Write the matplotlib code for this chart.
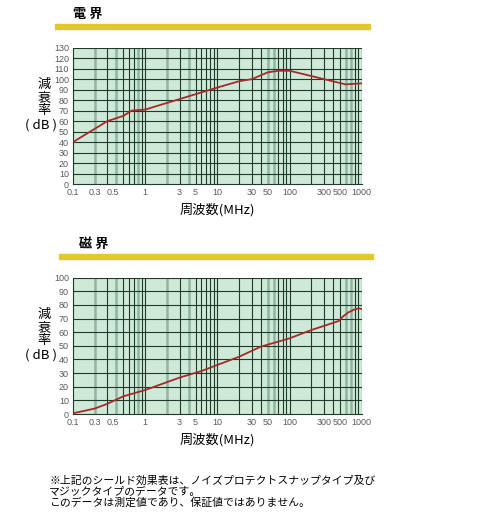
import numpy as np
import matplotlib.pyplot as plt
from matplotlib.ticker import FixedLocator, NullLocator

plt.rcParams['font.family'] = ['Liberation Sans', 'DejaVu Sans']
JP = ['Noto Sans CJK JP', 'DejaVu Sans']

# 電界 (electric field) shielding curve
freq_e = [0.1, 0.3, 0.5, 0.65, 1, 3, 10, 20, 30, 50, 70, 100, 200, 300, 600, 1000]
atten_e = [40, 60, 65, 70, 71, 81, 92, 98, 100, 106.5, 108, 108, 103, 100, 95, 96]

# 磁界 (magnetic field) shielding curve
freq_h = [0.1, 0.2, 0.3, 0.5, 1, 3, 6, 10, 20, 40, 100, 200, 480, 550, 650, 800, 920, 1000]
atten_h = [0.5, 4, 7.5, 13, 17.6, 26.7, 31.5, 36, 42, 49.4, 55.5, 61.6, 68.2, 71.5, 74.5, 76.8, 77.5, 77]

# x tick labels as printed (the first decade labels sit left of their lines)
xtick_pos = [0.1, 0.2, 0.36, 1, 3, 5, 10, 30, 50, 100, 300, 500, 1000]
xtick_lbl = ['0.1', '0.3', '0.5', '1', '3', '5', '10', '30', '50', '100', '300', '500', '1000']
grey_lines = [0.2, 0.4, 0.8, 2, 4, 50, 60, 600, 700]

W, H = 490, 531
fig = plt.figure(figsize=(W / 100, H / 100), dpi=100)


def panel(top_px, ymax, freq, atten, title, bar_x0, bar_x1, title_x):
    ax = fig.add_axes([73 / W, 1 - (top_px + 136.3) / H, 288.7 / W, 136.3 / H])
    ax.set_facecolor('#cfe9d9')
    ax.set_xscale('log')
    ax.set_xlim(0.1, 1000)
    ax.set_ylim(0, ymax)

    # vertical grid: one line per 1..9 step in every decade
    for dec in [0.1, 1, 10, 100]:
        for m in range(2, 11):
            v = round(dec * m, 6)
            if v in grey_lines:
                ax.axvline(v, color='#90b59f', lw=1.8, zorder=1)
            else:
                ax.axvline(v, color='#1f3a2b', lw=0.8, zorder=1)
    for yv in range(10, ymax + 1, 10):
        ax.axhline(yv, color='#1f3a2b', lw=0.8, zorder=1)

    ax.plot(freq, atten, color='#a52a2a', lw=1.3, zorder=3)

    ax.xaxis.set_major_locator(FixedLocator(xtick_pos))
    ax.xaxis.set_minor_locator(NullLocator())
    ax.set_xticklabels(xtick_lbl)
    ax.set_yticks(range(0, ymax + 1, 10))
    ax.tick_params(length=0, labelsize=6.5, labelcolor='#5a5a5a', pad=3)
    for s in ['top', 'right']:
        ax.spines[s].set_visible(False)
    for s in ['left', 'bottom']:
        ax.spines[s].set_color('#1f3a2b')
        ax.spines[s].set_linewidth(0.8)

    ax.set_xlabel('周波数(MHz)', family=JP, fontsize=9.5, labelpad=4)
    fig.text(44 / W, 1 - (top_px + 50) / H, '減\n衰\n率', family=JP, fontsize=9.5,
             ha='center', va='center', linespacing=1.0)
    fig.text(41 / W, 1 - (top_px + 77) / H, '( dB )', family=JP, fontsize=9.5,
             ha='center', va='center')

    # heading and yellow rule
    fig.text(title_x / W, 1 - (top_px - 34) / H, title, family=JP, fontsize=9.5,
             fontweight='bold', ha='left', va='center')
    fig.patches.append(plt.Rectangle((bar_x0 / W, 1 - (top_px - 19) / H),
                                     (bar_x1 - bar_x0) / W, 5 / H,
                                     transform=fig.transFigure, color='#e2c92a'))
    return ax


panel(47.7, 130, freq_e, atten_e, '電 界', 55, 370, 73)
panel(277.7, 100, freq_h, atten_h, '磁 界', 59, 373, 79)

note = ('※上記のシールド効果表は、ノイズプロテクトスナップタイプ及び\n'
        'マジックタイプのデータです。\n'
        'このデータは測定値であり、保証値ではありません。')
fig.text(49 / W, 1 - 476 / H, note, family=JP, fontsize=7.8, ha='left', va='top',
         linespacing=1.05)

fig.savefig('out.png', dpi=100)
